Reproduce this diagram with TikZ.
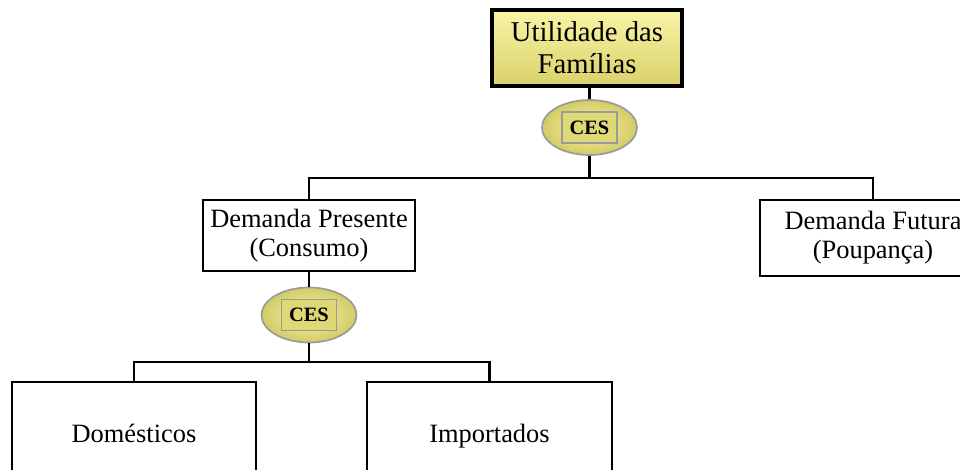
\documentclass[tikz,border=0pt]{standalone}
\usepackage{fontspec}
\setmainfont{Liberation Serif}
\usetikzlibrary{shapes.geometric}
\definecolor{ylight}{HTML}{F9F5A6}
\definecolor{ydark}{HTML}{D9D16A}
\definecolor{yedge}{HTML}{D2CB66}
\definecolor{cesgray}{HTML}{9A9A9A}
\tikzset{box/.style={draw=black, line width=1.5pt, fill=white, align=center, inner sep=0pt, font=\fontsize{18.8}{20.5}\selectfont},
topbox/.style={draw=black, line width=2.2pt, top color=ylight, bottom color=ydark, align=center, inner sep=0pt, minimum width=4.75cm, minimum height=1.9cm, font=\fontsize{20.4}{22.8}\selectfont},
%CES ellipse and its label box
ces/.style={ellipse, draw=cesgray, line width=1.2pt, inner color=ylight, outer color=yedge, minimum width=2.375cm, minimum height=1.375cm, inner sep=0pt},
cesbox/.style={draw=cesgray, line width=1.4pt, fill=ydark!80!ylight, minimum width=1.375cm, minimum height=0.775cm, inner sep=0pt, font=\fontsize{14.5}{16}\selectfont\bfseries},
leaf/.style={box, text height=12.5pt, text depth=3.9pt},
link/.style={line width=1.9pt}}

\begin{document}
\begin{tikzpicture}[x=0.025cm, y=-0.025cm]
\clip (0,0) rectangle (960,469);

% top level
\node[topbox] (util) at (587,48) {Utilidade das\\Famílias};
\node[ces] (ces1) at (589.5,127.5) {};
\node[cesbox] at (ces1) {CES};

% second level
\node[box, minimum width=5.3cm, minimum height=1.775cm] (pres) at (309,235.5) {Demanda Presente\\(Consumo)};
\node[box, minimum width=5.65cm, minimum height=1.9cm] (fut) at (873,238) {Demanda Futura\\(Poupança)};
\node[ces] (ces2) at (309,315) {};
\node[cesbox] at (ces2) {CES};

% third level
\node[leaf, minimum width=6.1cm, minimum height=2.7cm] (dom) at (134,436) {Domésticos};
\node[leaf, minimum width=6.125cm, minimum height=2.7cm] (imp) at (489.5,436) {Importados};

%links
\coordinate (bar1) at (589.5,178);
\coordinate (bar2) at (309,362);
\draw[link] (util.south -| ces1.north) -- (ces1.north);
\draw[link] (ces1.south) -- (bar1);
\draw[link] (pres.north) |- (bar1) -| (fut.north);
\draw[link] (pres.south) -- (ces2.north);
\draw[link] (ces2.south) -- (bar2);
\draw[link] (dom.north) |- (bar2) -| (imp.north);

\end{tikzpicture}
\end{document}
